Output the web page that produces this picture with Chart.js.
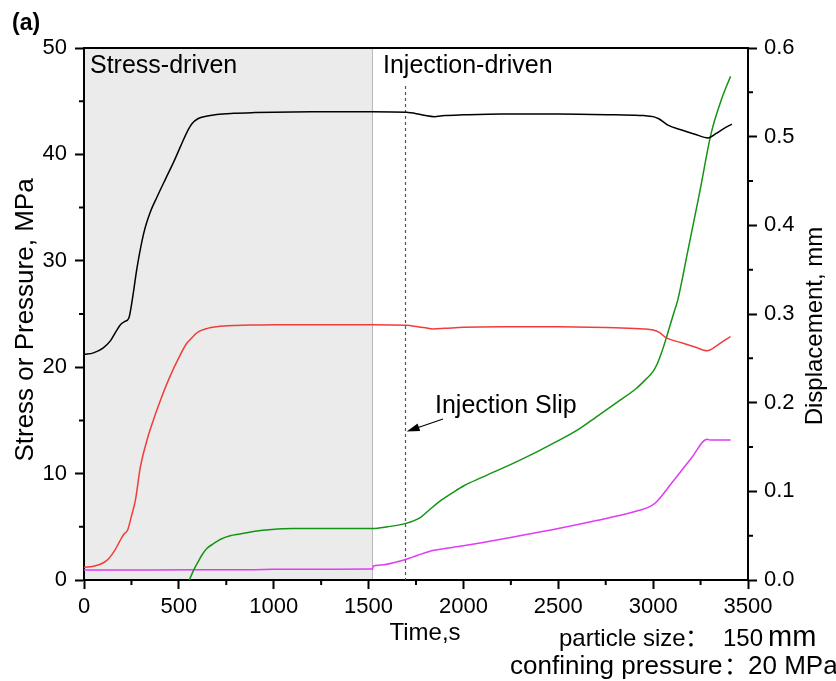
<!DOCTYPE html>
<html>
<head>
<meta charset="utf-8">
<script src="https://cdn.jsdelivr.net/npm/chart.js@4.4.1/dist/chart.umd.min.js"></script>
<style>
html,body{margin:0;padding:0;background:#fff;}
canvas{display:block;}
</style>
</head>
<body>
<canvas id="c" width="836" height="681"></canvas>
<script>
// ---------- data ----------
const tBlack = [0,50,100,140,170,192,215,236,255,280,315,350,385,430,473,510,543,570,600,650,700,788,900,1000,1200,1520,1700,1760,1800,1845,1900,2000,2200,2500,2800,2950,3000,3030,3078,3150,3220,3290,3330,3370,3415];
const axialStress = [21.2,21.35,21.8,22.5,23.4,24.0,24.3,24.6,26.4,29.4,32.6,34.6,36.0,37.7,39.3,40.8,42.1,42.9,43.35,43.6,43.75,43.86,43.93,43.97,44.0,44.0,43.95,43.8,43.65,43.55,43.65,43.72,43.8,43.8,43.72,43.65,43.55,43.35,42.75,42.3,41.9,41.55,41.95,42.4,42.85];

const tRed = [0,50,100,130,163,190,210,230,250,271,297,333,365,403,450,500,540,560,600,650,700,800,900,1000,1520,1700,1760,1800,1840,1900,2000,2200,2500,2800,2950,3000,3030,3070,3150,3220,3285,3330,3370,3408];
const deviatorStress = [1.2,1.3,1.6,2.0,2.8,3.7,4.3,4.7,6.0,7.5,10.6,13.2,15.0,16.9,19.0,20.9,22.2,22.6,23.3,23.65,23.8,23.92,23.97,24.0,24.0,23.95,23.8,23.7,23.6,23.65,23.75,23.8,23.8,23.7,23.6,23.5,23.3,22.75,22.3,21.9,21.55,21.95,22.45,22.87];

const tGreen = [555,580,600,626,650,683,720,770,823,900,990,1100,1300,1520,1600,1692,1740,1776,1820,1876,1940,2000,2100,2262,2400,2490,2600,2701,2800,2911,2960,2999,3020,3043,3065,3087,3110,3130,3180,3245,3306,3360,3408];
const displacementA = [0,0.012,0.02,0.0296,0.036,0.041,0.046,0.05,0.052,0.055,0.057,0.058,0.058,0.058,0.06,0.0636,0.067,0.071,0.079,0.089,0.098,0.106,0.116,0.1316,0.146,0.156,0.169,0.184,0.199,0.216,0.226,0.235,0.243,0.2557,0.27,0.2857,0.302,0.316,0.368,0.437,0.504,0.542,0.568];

const tMagenta = [0,300,600,900,1000,1200,1515,1520,1525,1560,1690,1760,1845,2000,2262,2500,2701,2900,2982,3017,3100,3200,3285,3300,3408];
const displacementB = [0.0113,0.0114,0.0115,0.0117,0.012,0.0121,0.0124,0.0118,0.0158,0.0168,0.0228,0.028,0.0335,0.0385,0.0485,0.058,0.067,0.077,0.0827,0.088,0.11,0.137,0.1587,0.158,0.158];

const xTicks = [0,500,1000,1500,2000,2500,3000,3500];
const xTickLabels = ['0','500','1000','1500','2000','2500','3000','3500'];
const xMinorTicks = [250,750,1250,1750,2250,2750,3250];
const yLeftTicks = [0,10,20,30,40,50];
const yLeftTickLabels = ['0','10','20','30','40','50'];
const yLeftMinorTicks = [5,15,25,35,45];
const yRightTicks = [0,0.1,0.2,0.3,0.4,0.5,0.6];
const yRightTickLabels = ['0.0','0.1','0.2','0.3','0.4','0.5','0.6'];
const yRightMinorTicks = [0.05,0.15,0.25,0.35,0.45,0.55];

const stressPhaseEnd = 1520;
const injectionSlipTime = 1690;

// ---------- helpers ----------
const pts = (xs, ys) => xs.map((x, i) => ({x: x, y: ys[i]}));
const FONT = '"Liberation Sans", Arial, sans-serif';
const CJK = '"Noto Sans CJK SC", sans-serif';

const overlayPlugin = {
  id: 'overlay',
  beforeDraw(chart) {
    const {ctx, chartArea: a, scales: {x}} = chart;
    const x0 = x.getPixelForValue(0), x1 = x.getPixelForValue(stressPhaseEnd);
    ctx.save();
    ctx.fillStyle = '#ebebeb';
    ctx.fillRect(x0, a.top, x1 - x0, a.bottom - a.top);
    ctx.strokeStyle = '#b8b8b8';
    ctx.lineWidth = 1;
    ctx.beginPath();
    ctx.moveTo(Math.round(x1) + 0.5, a.top);
    ctx.lineTo(Math.round(x1) + 0.5, a.bottom);
    ctx.stroke();
    ctx.restore();
  },
  beforeDatasetsDraw(chart) {
    const {ctx, chartArea: a, scales: {x}} = chart;
    const xs = Math.round(x.getPixelForValue(injectionSlipTime)) + 0.5;
    ctx.save();
    ctx.strokeStyle = '#555';
    ctx.lineWidth = 1.2;
    ctx.setLineDash([3, 3]);
    ctx.beginPath();
    ctx.moveTo(xs, 86);
    ctx.lineTo(xs, a.bottom);
    ctx.stroke();
    ctx.restore();
  },
  afterDraw(chart) {
    const {ctx, chartArea: a, scales: {x, y, y1}} = chart;
    ctx.save();
    // top frame line
    ctx.strokeStyle = '#000';
    ctx.lineWidth = 2;
    ctx.beginPath();
    ctx.moveTo(a.left - 1, a.top);
    ctx.lineTo(a.right + 1, a.top);
    ctx.stroke();
    // minor ticks
    ctx.beginPath();
    xMinorTicks.forEach(v => { const p = x.getPixelForValue(v); ctx.moveTo(p, a.bottom); ctx.lineTo(p, a.bottom + 5); });
    yLeftMinorTicks.forEach(v => { const p = y.getPixelForValue(v); ctx.moveTo(a.left - 5, p); ctx.lineTo(a.left, p); });
    yRightMinorTicks.forEach(v => { const p = y1.getPixelForValue(v); ctx.moveTo(a.right, p); ctx.lineTo(a.right + 5, p); });
    ctx.stroke();

    ctx.fillStyle = '#000';
    ctx.textBaseline = 'alphabetic';
    // panel label
    ctx.font = 'bold 23px ' + FONT;
    ctx.textAlign = 'left';
    ctx.fillText('(a)', 12, 30);
    // region labels
    ctx.font = '25px ' + FONT;
    ctx.fillText('Stress-driven', 90, 73);
    ctx.fillText('Injection-driven', 383, 73);
    ctx.fillText('Injection Slip', 435, 413);
    // arrow
    const tipX = x.getPixelForValue(injectionSlipTime) + 2;
    const tipY = y.getPixelForValue(13.95);
    const tailX = 443, tailY = 419;
    const ang = Math.atan2(tipY - tailY, tipX - tailX);
    ctx.lineWidth = 1.2;
    ctx.beginPath();
    ctx.moveTo(tailX, tailY);
    ctx.lineTo(tipX - 10 * Math.cos(ang), tipY - 10 * Math.sin(ang));
    ctx.stroke();
    ctx.beginPath();
    ctx.moveTo(tipX, tipY);
    ctx.lineTo(tipX - 13 * Math.cos(ang) + 4 * Math.sin(ang), tipY - 13 * Math.sin(ang) - 4 * Math.cos(ang));
    ctx.lineTo(tipX - 13 * Math.cos(ang) - 4 * Math.sin(ang), tipY - 13 * Math.sin(ang) + 4 * Math.cos(ang));
    ctx.closePath();
    ctx.fill();
    // axis titles
    ctx.font = '24px ' + FONT;
    ctx.textAlign = 'center';
    ctx.fillText('Time,s', 425, 640);
    ctx.save();
    ctx.translate(33, 320);
    ctx.rotate(-Math.PI / 2);
    ctx.font = '26px ' + FONT;
    ctx.fillText('Stress or Pressure, MPa', 0, 0);
    ctx.restore();
    ctx.save();
    ctx.translate(822, 326);
    ctx.rotate(-Math.PI / 2);
    ctx.font = '24px ' + FONT;
    ctx.fillText('Displacement, mm', 0, 0);
    ctx.restore();
    // test conditions
    ctx.textAlign = 'left';
    ctx.font = '24px ' + FONT;
    ctx.fillText('particle size', 559, 646);
    ctx.fillText('150', 723, 646);
    ctx.font = '29px ' + FONT;
    ctx.fillText('mm', 768, 646);
    ctx.font = '26px ' + FONT;
    ctx.fillText('confining pressure', 510, 674);
    ctx.fillText('20 MPa', 748, 674);
    ctx.font = '24px ' + CJK;
    ctx.textAlign = 'center';
    ctx.fillText('：', 697, 646);
    ctx.fillText('：', 736, 674);
    ctx.restore();
  }
};

const lineDs = (label, data, color, axis) => ({
  label, data, yAxisID: axis,
  borderColor: color, backgroundColor: color,
  borderWidth: 1.5, pointRadius: 0, fill: false,
  cubicInterpolationMode: 'monotone'
});

const tickFont = {family: FONT, size: 22};

new Chart(document.getElementById('c'), {
  type: 'line',
  data: {
    datasets: [
      lineDs('Axial stress', pts(tBlack, axialStress), '#000000', 'y'),
      lineDs('Deviator stress', pts(tRed, deviatorStress), '#f23c3c', 'y'),
      lineDs('Displacement A', pts(tGreen, displacementA), '#149414', 'y1'),
      lineDs('Displacement B', pts(tMagenta, displacementB), '#df3cf4', 'y1')
    ]
  },
  options: {
    responsive: false,
    animation: false,
    devicePixelRatio: 1,
    layout: {padding: {top: 48, left: 0, right: 0, bottom: 0}},
    plugins: {legend: {display: false}, tooltip: {enabled: false}},
    scales: {
      x: {
        type: 'linear', position: 'bottom', min: 0, max: 3500,
        afterBuildTicks: s => { s.ticks = xTicks.map(v => ({value: v})); },
        afterFit: s => { s.height = 101; },
        ticks: {font: tickFont, color: '#000', padding: 5, maxRotation: 0, autoSkip: false, callback: (v, i) => xTickLabels[i]},
        grid: {drawOnChartArea: false, tickLength: 9, tickWidth: 2, tickColor: '#000'},
        border: {color: '#000', width: 2}
      },
      y: {
        type: 'linear', position: 'left', min: 0, max: 50,
        afterBuildTicks: s => { s.ticks = yLeftTicks.map(v => ({value: v})); },
        afterFit: s => { s.width = 84; },
        ticks: {font: tickFont, color: '#000', padding: 8, callback: (v, i) => yLeftTickLabels[i]},
        grid: {drawOnChartArea: false, tickLength: 9, tickWidth: 2, tickColor: '#000'},
        border: {color: '#000', width: 2}
      },
      y1: {
        type: 'linear', position: 'right', min: 0, max: 0.6,
        afterBuildTicks: s => { s.ticks = yRightTicks.map(v => ({value: v})); },
        afterFit: s => { s.width = 88; },
        ticks: {font: tickFont, color: '#000', padding: 7, callback: (v, i) => yRightTickLabels[i]},
        grid: {drawOnChartArea: false, tickLength: 9, tickWidth: 2, tickColor: '#000'},
        border: {color: '#000', width: 2}
      }
    }
  },
  plugins: [overlayPlugin]
});
</script>
</body>
</html>
